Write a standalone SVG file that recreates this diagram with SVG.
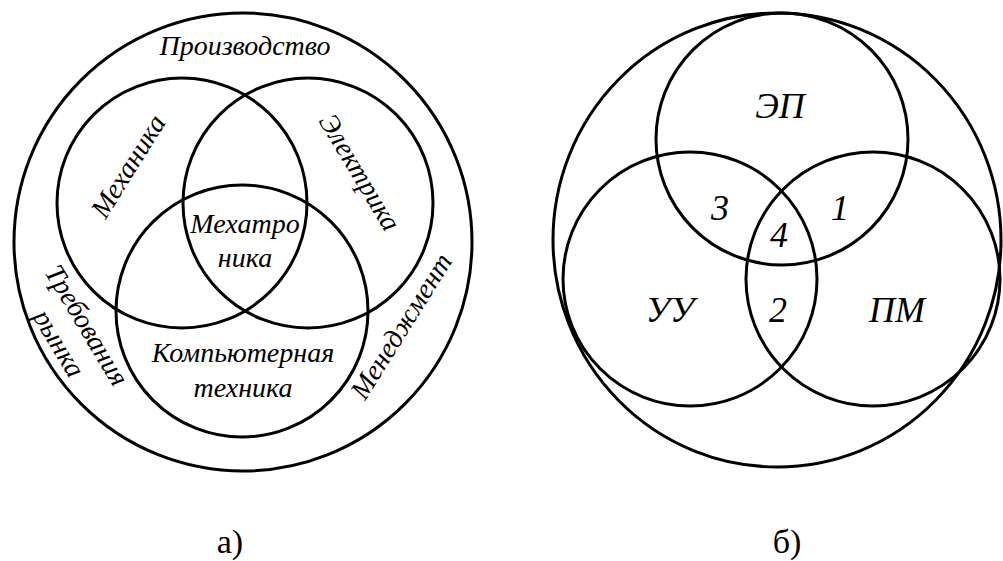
<svg xmlns="http://www.w3.org/2000/svg" width="1003" height="561" viewBox="0 0 1003 561">
  <style>
    .ring { fill: none; stroke: #000; stroke-width: 3; }
    .lbl { font-style: italic; font-size: 28px; fill: #000; text-anchor: middle; }
    .big { font-size: 36px; }
    .cap { font-size: 34px; fill: #000; text-anchor: middle; }
  </style>
  <rect width="1003" height="561" fill="#fff"/>

  <!-- Diagram a: mechatronics as an intersection of disciplines -->
  <g id="diagram-a" font-family="Liberation Serif, Times New Roman, serif">
    <g id="a-outer">
      <circle class="ring" cx="243" cy="242" r="229"/>
      <text class="lbl" x="245" y="55">Производство</text>
      <text class="lbl" transform="translate(79,330) rotate(59)">Требования</text>
      <text class="lbl" transform="translate(51,348) rotate(59)">рынка</text>
      <text class="lbl" transform="translate(409,331) rotate(-58)">Менеджмент</text>
    </g>
    <g id="a-mechanics">
      <circle class="ring" cx="182" cy="203" r="125"/>
      <text class="lbl" transform="translate(136,171) rotate(-58)">Механика</text>
    </g>
    <g id="a-electrics">
      <circle class="ring" cx="308" cy="203" r="125"/>
      <text class="lbl" transform="translate(352,177) rotate(59)">Электрика</text>
    </g>
    <g id="a-computer">
      <circle class="ring" cx="242" cy="311" r="126"/>
      <text class="lbl" x="243" y="362">Компьютерная</text>
      <text class="lbl" x="243" y="397">техника</text>
    </g>
    <g id="a-mechatronics">
      <text class="lbl" x="245" y="233">Мехатро</text>
      <text class="lbl" x="245" y="267">ника</text>
    </g>
    <text class="cap" x="230" y="553">а)</text>
  </g>

  <!-- Diagram b: three subsystems and their overlaps -->
  <g id="diagram-b" font-family="Liberation Serif, Times New Roman, serif">
    <g id="b-outer">
      <ellipse class="ring" cx="777" cy="240" rx="224" ry="227"/>
    </g>
    <g id="b-ep">
      <circle class="ring" cx="782" cy="139" r="126"/>
      <text class="lbl big" x="780" y="118">ЭП</text>
    </g>
    <g id="b-uu">
      <circle class="ring" cx="690" cy="279" r="127"/>
      <text class="lbl big" x="670" y="322">УУ</text>
    </g>
    <g id="b-pm">
      <circle class="ring" cx="873" cy="279" r="127"/>
      <text class="lbl big" x="897" y="322">ПМ</text>
    </g>
    <g id="b-zones">
      <text class="lbl big" x="720" y="220">3</text>
      <text class="lbl big" x="840" y="220">1</text>
      <text class="lbl big" x="779" y="247">4</text>
      <text class="lbl big" x="778" y="322">2</text>
    </g>
    <text class="cap" x="787" y="553">б)</text>
  </g>
</svg>
